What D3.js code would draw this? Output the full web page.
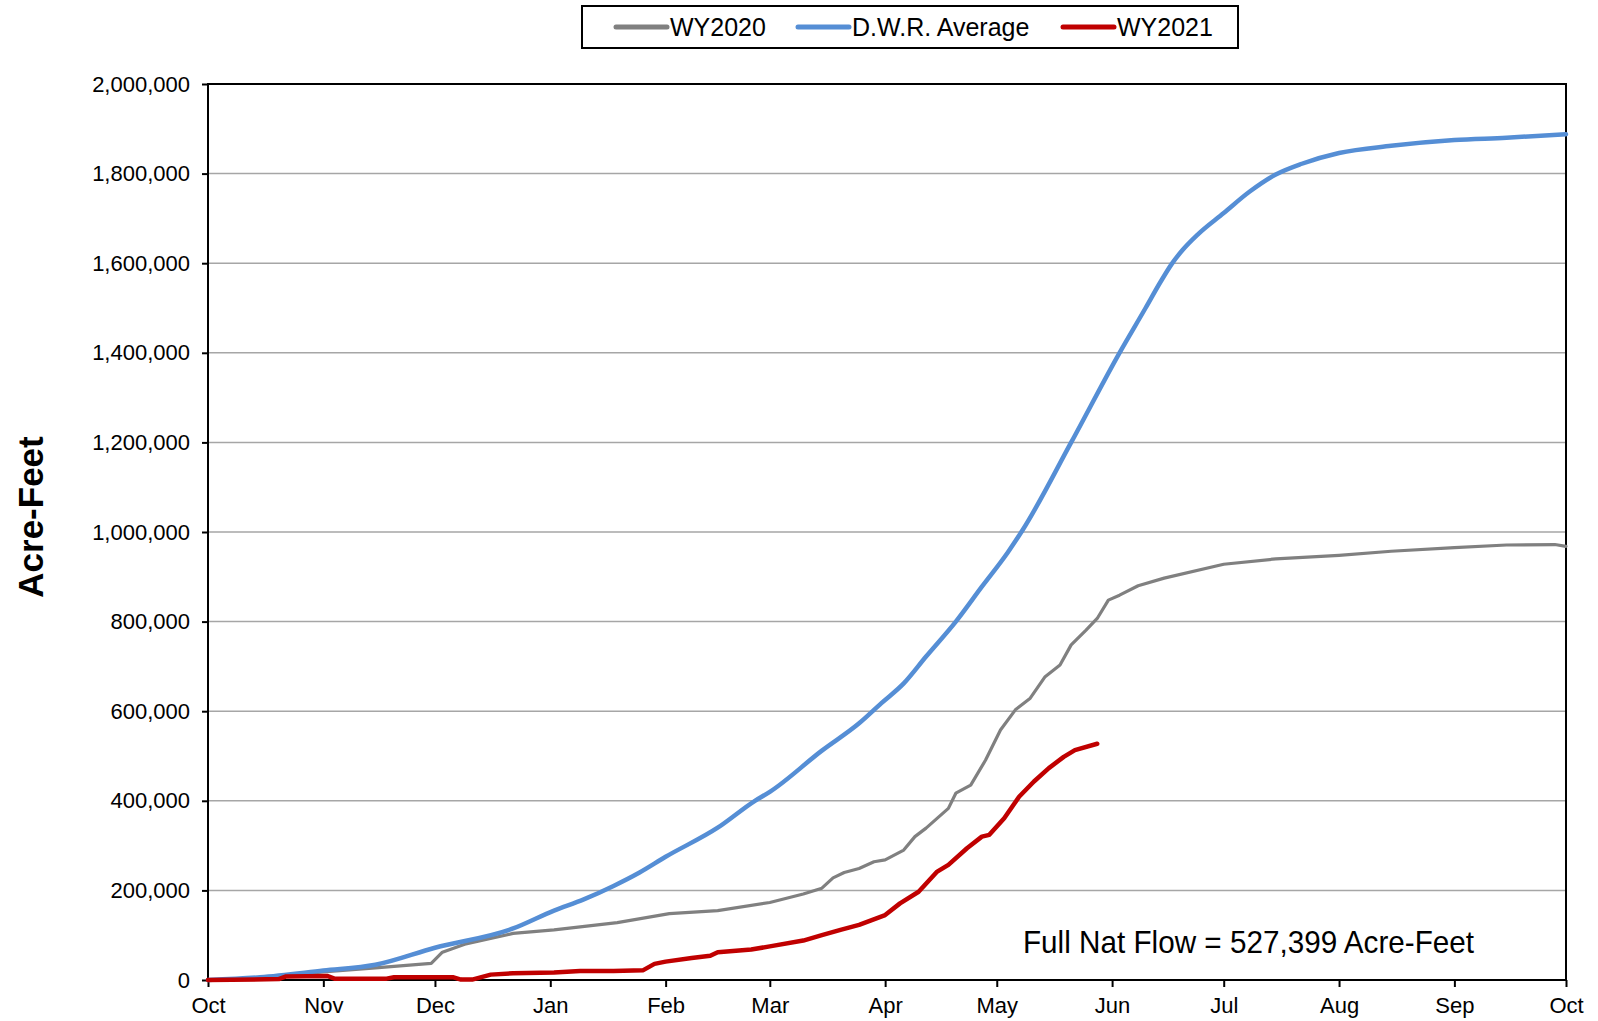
<!DOCTYPE html>
<html>
<head>
<meta charset="utf-8">
<script src="https://cdn.jsdelivr.net/npm/d3@7"></script>
<style>
  body { margin: 0; background: #fff; }
  text { font-family: "Liberation Sans", Arial, sans-serif; fill: #000; }
</style>
</head>
<body>
<svg id="chart" width="1598" height="1021"></svg>
<script>
// WY2020 cumulative full natural flow, plotted on the water-year calendar
var wy2020Dates = ["2020-10-01","2020-10-15","2020-11-01","2020-11-15","2020-11-30","2020-12-03","2020-12-09","2020-12-22",
  "2021-01-02","2021-01-19","2021-02-02","2021-02-15","2021-03-01","2021-03-10","2021-03-15","2021-03-18","2021-03-21",
  "2021-03-25","2021-03-29","2021-04-01","2021-04-06","2021-04-09","2021-04-12","2021-04-18","2021-04-20","2021-04-24",
  "2021-04-28","2021-05-02","2021-05-06","2021-05-10","2021-05-14","2021-05-18","2021-05-21","2021-05-25","2021-05-28",
  "2021-05-31","2021-06-03","2021-06-08","2021-06-15","2021-07-01","2021-07-15","2021-08-01","2021-08-15","2021-09-01",
  "2021-09-15","2021-09-28","2021-10-01"];
var wy2020Values = [0,5000,18000,27000,37000,62000,80000,104000,
  112000,128000,148000,155000,173000,192000,205000,228000,240000,
  249000,264000,268000,290000,320000,339000,383000,417000,435000,
  491000,558000,603000,629000,677000,703000,748000,781000,807000,
  848000,859000,880000,897000,928000,940000,948000,957000,965000,
  971000,972000,968000];

// D.W.R. average cumulative flow
var avgDates = ["2020-10-01","2020-10-15","2020-11-01","2020-11-15","2020-12-01","2020-12-22","2021-01-02","2021-01-10",
  "2021-01-18","2021-01-25","2021-02-01","2021-02-15","2021-02-25","2021-03-01","2021-03-15","2021-03-25","2021-03-31",
  "2021-04-06","2021-04-12","2021-04-20","2021-04-27","2021-05-04","2021-05-08","2021-05-21","2021-06-03","2021-06-10",
  "2021-06-14","2021-06-17","2021-06-20","2021-06-24","2021-07-01","2021-07-08","2021-07-15","2021-07-22","2021-08-01",
  "2021-08-15","2021-09-01","2021-09-15","2021-10-01"];
var avgValues = [0,6000,21000,34000,72000,115000,155000,180000,
  210000,240000,275000,340000,400000,420000,512000,573000,618000,
  662000,722000,800000,878000,955000,1005000,1200000,1400000,1500000,
  1558000,1598000,1630000,1664000,1712000,1760000,1798000,1822000,1846000,
  1862000,1875000,1880000,1888000];

// WY2021 cumulative flow to date
var wy2021Dates = ["2020-10-01","2020-10-20","2020-10-22","2020-11-02","2020-11-04","2020-11-18","2020-11-20","2020-12-06",
  "2020-12-08","2020-12-11","2020-12-16","2020-12-22","2021-01-02","2021-01-09","2021-01-18","2021-01-26","2021-01-29",
  "2021-02-01","2021-02-08","2021-02-13","2021-02-15","2021-02-24","2021-03-01","2021-03-10","2021-03-15","2021-03-20",
  "2021-03-25","2021-04-01","2021-04-05","2021-04-10","2021-04-15","2021-04-18","2021-04-23","2021-04-27","2021-04-29",
  "2021-05-03","2021-05-07","2021-05-11","2021-05-15","2021-05-19","2021-05-22","2021-05-28"];
var wy2021Values = [0,2000,8000,9000,3000,3000,6000,6000,
  1000,1000,12000,15000,17000,20000,20000,22000,36000,
  41000,49000,54000,62000,68000,75000,88000,100000,112000,
  123000,145000,171000,197000,242000,257000,294000,320000,324000,
  361000,409000,443000,473000,498000,513000,527399];

var seriesNames = ["WY2020", "D.W.R. Average", "WY2021"];
var yTicks = [0,200000,400000,600000,800000,1000000,1200000,1400000,1600000,1800000,2000000];
var noteText = "Full Nat Flow = 527,399 Acre-Feet";

var svg = d3.select("#chart"),
    plotLeft = 208, plotRight = 1566, plotTop = 84, plotBottom = 980;

var parse = d3.utcParse("%Y-%m-%d");

var x = d3.scaleUtc()
    .domain([parse("2020-10-01"), parse("2021-10-01")])
    .range([plotLeft, plotRight]);

var y = d3.scaleLinear()
    .domain([0, 2000000])
    .range([plotBottom, plotTop]);

function rows(dates, values) {
    return dates.map(function(d, i) { return {date: parse(d), value: values[i]}; });
}

var series = [
    {name: seriesNames[0], data: rows(wy2020Dates, wy2020Values), color: "#808080", width: 3.2, curve: d3.curveLinear},
    {name: seriesNames[1], data: rows(avgDates, avgValues), color: "#558ED5", width: 4.5, curve: d3.curveMonotoneX},
    {name: seriesNames[2], data: rows(wy2021Dates, wy2021Values), color: "#C00000", width: 4.5, curve: d3.curveLinear}
];

// gridlines
svg.append("g")
    .selectAll("line")
    .data(yTicks.slice(1, -1))
    .enter().append("line")
    .attr("x1", plotLeft).attr("x2", plotRight)
    .attr("y1", function(d) { return y(d); })
    .attr("y2", function(d) { return y(d); })
    .attr("stroke", "#a6a6a6")
    .attr("stroke-width", 1.5);

// y axis
var yAxis = svg.append("g")
    .attr("transform", "translate(" + plotLeft + ",0)")
    .call(d3.axisLeft(y).tickValues(yTicks).tickFormat(d3.format(",")).tickSize(6).tickPadding(12));
yAxis.select(".domain").remove();
yAxis.selectAll(".tick line").attr("stroke", "#000").attr("stroke-width", 2);
yAxis.selectAll("text").style("font-size", "22px").attr("font-family", null);

// x axis
var xAxis = svg.append("g")
    .attr("transform", "translate(0," + plotBottom + ")")
    .call(d3.axisBottom(x).ticks(d3.utcMonth.every(1)).tickFormat(d3.utcFormat("%b")).tickSize(7).tickPadding(10));
xAxis.select(".domain").remove();
xAxis.selectAll(".tick line").attr("stroke", "#000").attr("stroke-width", 2);
xAxis.selectAll("text").style("font-size", "22px").attr("font-family", null);

// plot frame
svg.append("rect")
    .attr("x", plotLeft).attr("y", plotTop)
    .attr("width", plotRight - plotLeft).attr("height", plotBottom - plotTop)
    .attr("fill", "none")
    .attr("stroke", "#000")
    .attr("stroke-width", 2);

// lines
svg.append("g")
    .selectAll("path")
    .data(series)
    .enter().append("path")
    .attr("d", function(d) {
        return d3.line()
            .curve(d.curve)
            .x(function(p) { return x(p.date); })
            .y(function(p) { return y(p.value); })(d.data);
    })
    .attr("fill", "none")
    .attr("stroke", function(d) { return d.color; })
    .attr("stroke-width", function(d) { return d.width; })
    .attr("stroke-linejoin", "round")
    .attr("stroke-linecap", "round");

// y title
svg.append("text")
    .attr("transform", "translate(43,517) rotate(-90)")
    .attr("text-anchor", "middle")
    .style("font-size", "35px")
    .style("font-weight", "bold")
    .text("Acre-Feet");

// annotation
svg.append("text")
    .attr("x", 1023).attr("y", 953)
    .attr("textLength", 451)
    .attr("lengthAdjust", "spacingAndGlyphs")
    .style("font-size", "32px")
    .text(noteText);

// legend
var legend = svg.append("g");
legend.append("rect")
    .attr("x", 582).attr("y", 6)
    .attr("width", 656).attr("height", 42)
    .attr("fill", "#fff")
    .attr("stroke", "#000")
    .attr("stroke-width", 2);

var legendX = [616, 798, 1063];
var item = legend.selectAll("g.item")
    .data(series)
    .enter().append("g")
    .attr("class", "item")
    .attr("transform", function(d, i) { return "translate(" + legendX[i] + ",27)"; });
item.append("line")
    .attr("x1", 0).attr("x2", 51)
    .attr("stroke", function(d) { return d.color; })
    .attr("stroke-width", 5)
    .attr("stroke-linecap", "round");
item.append("text")
    .attr("x", 54).attr("y", 9)
    .style("font-size", "25px")
    .text(function(d) { return d.name; });
</script>
</body>
</html>
